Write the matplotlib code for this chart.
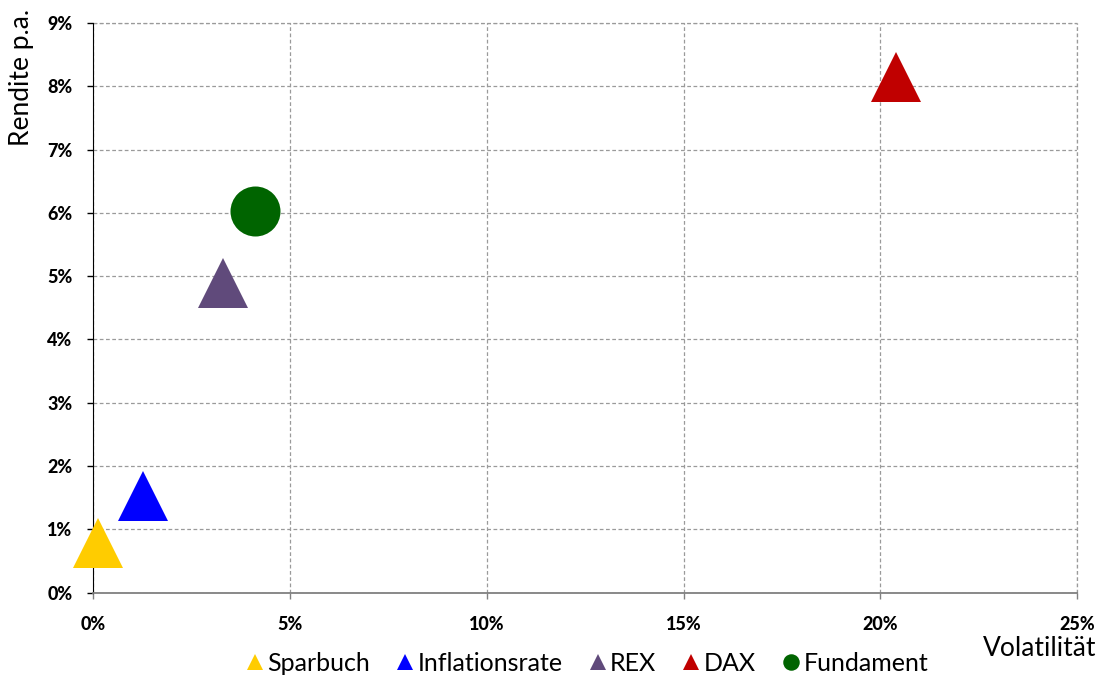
import matplotlib.pyplot as plt
import matplotlib.ticker as mticker

plt.rcParams['font.family'] = ['Lato', 'DejaVu Sans']

# data (volatility %, return %)
names = ['Sparbuch', 'Inflationsrate', 'REX', 'DAX', 'Fundament']
volatility = [0.11, 1.27, 3.29, 20.4, 4.11]
returns = [0.79, 1.53, 4.9, 8.15, 6.03]
markers = ['^', '^', '^', '^', 'o']
colours = ['#FFCC00', '#0000FF', '#604A7B', '#C00000', '#006400']

xticks = [0, 5, 10, 15, 20, 25]
yticks = [0, 1, 2, 3, 4, 5, 6, 7, 8, 9]

fig = plt.figure(figsize=(11.02, 6.75), dpi=100)
ax = fig.add_axes([0.0847, 0.1219, 0.8926, 0.8441])

for n, x, y, m, c in zip(names, volatility, returns, markers, colours):
    ax.plot([x], [y], linestyle='none', marker=m, markersize=36,
            color=c, markeredgewidth=0, label=n, clip_on=False, zorder=3)

ax.set_xlim(0, 25)
ax.set_ylim(0, 9)
ax.set_xticks(xticks)
ax.set_yticks(yticks)
ax.xaxis.set_major_formatter(mticker.FuncFormatter(lambda v, p: '%d%%' % v))
ax.yaxis.set_major_formatter(mticker.FuncFormatter(lambda v, p: '%d%%' % v))
for lab in ax.get_xticklabels() + ax.get_yticklabels():
    lab.set_fontweight('black')
ax.tick_params(axis='both', labelsize=13, length=4, width=1, pad=11)
ax.tick_params(axis='x', pad=13, color='#808080')

ax.grid(True, linestyle=(0, (3, 2)), color='#9a9a9a', linewidth=0.9)
ax.set_axisbelow(True)
ax.spines['top'].set_visible(False)
ax.spines['right'].set_visible(False)
ax.spines['left'].set_color('black')
ax.spines['bottom'].set_color('#808080')
ax.spines['bottom'].set_linewidth(1.3)

# top / right dashed borders (grid at limits)
ax.axhline(9, linestyle=(0, (3, 2)), color='#9a9a9a', linewidth=0.9, clip_on=False)
ax.axvline(25, linestyle=(0, (3, 2)), color='#9a9a9a', linewidth=0.9, clip_on=False)

fig.text(21 / 1102, 1 - 9 / 675, 'Rendite p.a.', rotation=90,
         ha='center', va='top', fontsize=19)
fig.text(1096 / 1102, 1 - 648 / 675, 'Volatilität',
         ha='right', va='center', fontsize=19)

leg = ax.legend(loc='center', bbox_to_anchor=(0.5, -0.124), ncol=5,
                frameon=False, fontsize=18, markerscale=0.33,
                handletextpad=0.0, columnspacing=0.9, handlelength=1.0)

fig.savefig('out.png', dpi=100)
